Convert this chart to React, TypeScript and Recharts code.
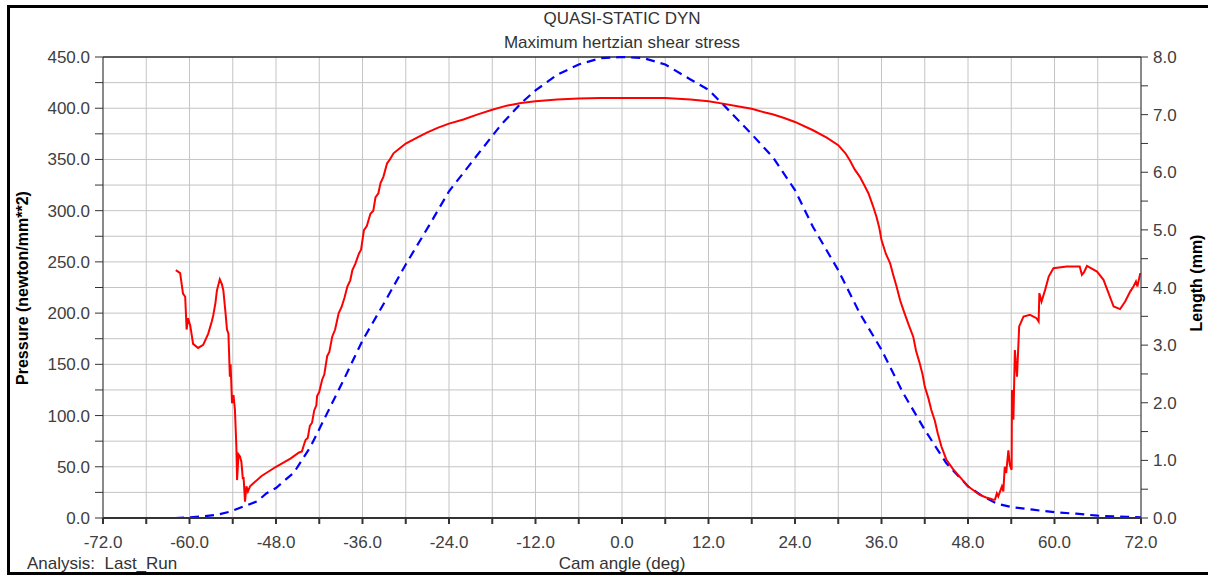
import React from "react";
import { LineChart, Line, XAxis, YAxis, CartesianGrid, ReferenceLine } from "recharts";

// Cam angle ticks (deg), every 6, labelled every 12
const xTicks = [-72, -66, -60, -54, -48, -42, -36, -30, -24, -18, -12, -6, 0, 6, 12, 18, 24, 30, 36, 42, 48, 54, 60, 66, 72];
// Pressure ticks, every 25, labelled every 50
const leftTicks = [0, 25, 50, 75, 100, 125, 150, 175, 200, 225, 250, 275, 300, 325, 350, 375, 400, 425, 450];
// Length ticks, every 0.5, labelled every 1
const rightTicks = [0, 0.5, 1, 1.5, 2, 2.5, 3, 3.5, 4, 4.5, 5, 5.5, 6, 6.5, 7, 7.5, 8];

// Maximum hertzian shear stress (newton/mm**2) vs cam angle (deg)
const pressureAngle = [
  -61.9, -61.3, -60.9, -60.6, -60.4, -60.2, -59.9, -59.5, -58.8, -58.1, -57.4, -56.9, -56.7, -56.4, -56.2, -55.8, -55.5, -55.3, -55.0, -54.8,
  -54.6, -54.4, -54.3, -54.1, -53.9, -53.7, -53.5, -53.4, -53.2, -53.0, -52.8, -52.6, -52.5, -52.3, -52.1, -51.9, -51.6, -50, -48, -46,
  -44.8, -44.4, -44.1, -43.9, -43.6, -43.3, -43.0, -42.7, -42.4, -42.3, -42.0, -41.6, -41.3, -40.9, -40.6, -40.2, -39.8, -39.3, -38.9, -38.5,
  -38.1, -37.7, -37.4, -37.0, -36.5, -36.2, -35.8, -35.4, -34.9, -34.5, -34.2, -33.8, -33.5, -33.1, -32.6, -32.2, -31.7, -31, -30, -28.5,
  -27, -25.5, -24, -22, -20, -18, -16, -14, -12, -9, -6, -3, 0, 3, 6, 9.5, 12, 14, 16, 18,
  20, 21, 22.5, 24, 26.5, 28.4, 30, 31, 31.6, 32.3, 33, 33.6, 34.2, 34.8, 35.3, 35.7, 36, 36.6, 37.2, 37.6,
  38.1, 38.6, 39.2, 39.8, 40.4, 40.8, 41.3, 41.7, 42, 42.5, 42.9, 43.4, 43.8, 44.3, 45, 45.9, 46.8, 48, 49.6, 50.5,
  51, 51.5, 51.75, 52, 52.2, 52.5, 52.7, 52.9, 53.1, 53.3, 53.6, 53.8, 54.05, 54.1, 54.3, 54.5, 54.8, 55.1, 55.7, 56.6,
  57.5, 57.8, 57.9, 58.2, 58.7, 59.2, 59.85, 61.7, 63.5, 63.8, 64.1, 64.5, 65.9, 66.8, 67.5, 68.2, 69.1, 69.8, 70.5, 70.95,
  71.3, 71.5, 71.9,
];
const pressureValue = [
  242, 239, 219, 216, 184, 195, 188, 170, 166, 169, 180, 192, 198, 210, 222, 233, 228, 222, 200, 184,
  180, 138, 150, 112, 120, 106, 70, 37, 62, 60, 55, 38, 40, 16, 31, 26, 31, 41, 50, 58,
  64, 65, 72, 76, 78, 90, 93, 105, 110, 119, 123, 135, 140, 158, 162, 177, 184, 200, 206, 215,
  226, 232, 242, 248, 258, 262, 281, 285, 297, 300, 313, 317, 327, 333, 346, 350, 356, 360, 365.5, 371,
  376.5, 381, 385, 389, 394, 398.5, 402.5, 405.2, 406.8, 408.5, 409.4, 410, 410, 410, 410, 408.4, 406.8, 404.5, 402, 399.4,
  395.5, 393.8, 390.5, 386.6, 378.5, 371.3, 363.9, 356, 349.3, 340, 333, 325, 316.8, 305, 294, 283, 271.3, 258, 248.5, 238,
  225.8, 212, 199.8, 188, 177, 163, 151, 140, 128.3, 117, 105.6, 95, 82.8, 70, 56.9, 48, 40.6, 30.9, 22.7, 20,
  19, 17.9, 18, 24, 21, 27, 30.8, 26, 50, 44, 66, 52, 47, 125, 96, 164, 138, 187, 196.7, 198.3,
  195, 191.8, 219.5, 211.3, 222.7, 235.7, 243.9, 245.4, 245.4, 237.3, 240, 246, 240.6, 232.5, 219.5, 206.4, 203.9, 211.3, 221, 226,
  230.8, 226, 239,
];

// Cam lift length (mm) vs cam angle (deg)
const lengthAngle = [
  -62, -60, -58, -56, -54.4, -52.5, -50.6, -49.3, -48, -47, -45.5, -43.2, -40.9, -38.6, -36, -33, -30, -26.6, -24, -21,
  -18, -16.8, -14, -12, -9, -6, -3, 0, 3, 6, 9.5, 12, 14, 18, 21, 24, 26.5, 30, 33, 36,
  39, 42, 45, 48, 50, 52, 54, 57, 60, 63, 66, 70, 72,
];
const lengthValue = [
  0, 0.01, 0.03, 0.06, 0.11, 0.2, 0.29, 0.43, 0.52, 0.63, 0.79, 1.24, 1.82, 2.4, 3.08, 3.73, 4.4, 5.11, 5.67, 6.15,
  6.63, 6.82, 7.2, 7.42, 7.69, 7.87, 7.98, 8.0, 7.98, 7.87, 7.61, 7.43, 7.18, 6.66, 6.25, 5.69, 5.05, 4.3, 3.55, 2.92,
  2.17, 1.53, 0.95, 0.55, 0.38, 0.25, 0.19, 0.144, 0.1, 0.075, 0.04, 0.02, 0.01,
];

const pressureData = pressureAngle.map((a, i) => ({ deg: a, p: pressureValue[i] }));
const lengthData = lengthAngle.map((a, i) => ({ deg: a, l: lengthValue[i] }));

const FONT = '"Liberation Sans", Arial, sans-serif';
const tickStyle = { fontFamily: FONT, fontSize: 17, fill: "#404040" };

const centered = (cx: number, cy: number, extra: React.CSSProperties = {}): React.CSSProperties => ({
  position: "absolute",
  left: cx,
  top: cy,
  transform: "translate(-50%, -50%)",
  whiteSpace: "pre",
  lineHeight: 1,
  fontFamily: FONT,
  fontSize: 17,
  color: "#333",
  ...extra,
});

export default function App() {
  return (
    <div style={{ position: "absolute", left: 0, top: 0, width: 1208, height: 576, background: "#fff", overflow: "hidden" }}>
      <LineChart
        width={1208}
        height={576}
        margin={{ top: 57, right: 0, bottom: 0, left: 0 }}
        style={{ position: "absolute", left: 0, top: 0 }}
      >
        <CartesianGrid yAxisId="left" stroke="#c4c4c4" strokeWidth={1} />
        <XAxis
          type="number"
          dataKey="deg"
          domain={[-72, 72]}
          ticks={xTicks}
          interval={0}
          allowDuplicatedCategory={false}
          height={58}
          tickSize={6}
          tickMargin={12}
          stroke="#333"
          strokeWidth={2}
          tick={tickStyle}
          tickFormatter={(v: number) => (v % 12 === 0 ? v.toFixed(1) : "")}
        />
        <YAxis
          yAxisId="left"
          orientation="left"
          type="number"
          domain={[0, 450]}
          ticks={leftTicks}
          interval={0}
          width={103}
          tickSize={8}
          tickMargin={5}
          stroke="#333"
          tick={tickStyle}
          tickFormatter={(v: number) => (v % 50 === 0 ? v.toFixed(1) : "")}
        />
        <YAxis
          yAxisId="right"
          orientation="right"
          type="number"
          domain={[0, 8]}
          ticks={rightTicks}
          interval={0}
          width={67}
          tickSize={7}
          tickMargin={5}
          stroke="#333"
          tick={tickStyle}
          tickFormatter={(v: number) => (v % 1 === 0 ? v.toFixed(1) : "")}
        />
        <ReferenceLine yAxisId="left" y={450} stroke="#333" strokeWidth={1.5} />
        <Line
          yAxisId="right"
          data={lengthData}
          dataKey="l"
          type="linear"
          stroke="#0000ff"
          strokeWidth={2.2}
          strokeDasharray="9 6"
          dot={false}
          isAnimationActive={false}
        />
        <Line
          yAxisId="left"
          data={pressureData}
          dataKey="p"
          type="linear"
          stroke="#ff0000"
          strokeWidth={2}
          dot={false}
          isAnimationActive={false}
        />
      </LineChart>

      <div style={centered(622, 18)}>QUASI-STATIC DYN</div>
      <div style={centered(622, 42)}>Maximum hertzian shear stress</div>
      <div style={centered(622, 563)}>Cam angle (deg)</div>
      <div style={{ ...centered(27, 563), transform: "translate(0, -50%)" }}>{"Analysis:  Last_Run"}</div>
      <div style={centered(23, 288, { transform: "translate(-50%, -50%) rotate(-90deg)", fontWeight: "bold", color: "#000", fontSize: 16 })}>
        Pressure (newton/mm**2)
      </div>
      <div style={centered(1197, 283, { transform: "translate(-50%, -50%) rotate(-90deg)", fontWeight: "bold", color: "#000", fontSize: 16 })}>
        Length (mm)
      </div>

      <div
        style={{
          position: "absolute",
          left: 7,
          top: 5,
          width: 1204,
          height: 570,
          boxSizing: "border-box",
          border: "3px solid #000",
          pointerEvents: "none",
        }}
      />
    </div>
  );
}
